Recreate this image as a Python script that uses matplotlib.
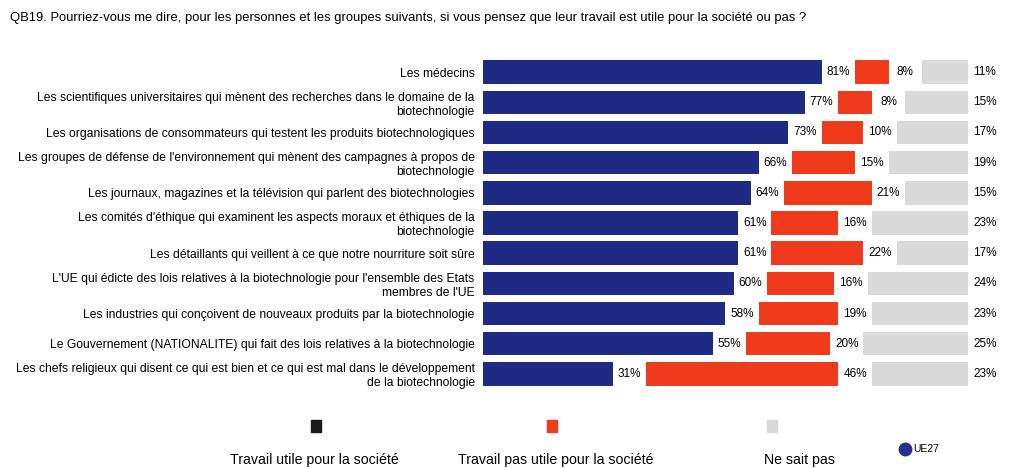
import matplotlib.pyplot as plt
from matplotlib.patches import Rectangle

plt.rcParams['font.family'] = ['Liberation Sans Narrow', 'Liberation Sans', 'DejaVu Sans']

categories = [
    "Les médecins",
    "Les scientifiques universitaires qui mènent des recherches dans le domaine de la\nbiotechnologie",
    "Les organisations de consommateurs qui testent les produits biotechnologiques",
    "Les groupes de défense de l'environnement qui mènent des campagnes à propos de\nbiotechnologie",
    "Les journaux, magazines et la télévision qui parlent des biotechnologies",
    "Les comités d'éthique qui examinent les aspects moraux et éthiques de la\nbiotechnologie",
    "Les détaillants qui veillent à ce que notre nourriture soit sûre",
    "L'UE qui édicte des lois relatives à la biotechnologie pour l'ensemble des Etats\nmembres de l'UE",
    "Les industries qui conçoivent de nouveaux produits par la biotechnologie",
    "Le Gouvernement (NATIONALITE) qui fait des lois relatives à la biotechnologie",
    "Les chefs religieux qui disent ce qui est bien et ce qui est mal dans le développement\nde la biotechnologie",
]
utile = [81, 77, 73, 66, 64, 61, 61, 60, 58, 55, 31]
pas_utile = [8, 8, 10, 15, 21, 16, 22, 16, 19, 20, 46]
nsp = [11, 15, 17, 19, 15, 23, 17, 24, 23, 25, 23]

legend_labels = ["Travail utile pour la société", "Travail pas utile pour la société", "Ne sait pas"]

BLUE = "#1e2a84"
RED = "#f03a1c"
GREY = "#dadada"
GAP = 8  # space left between segments for the value labels

fig = plt.figure(figsize=(10.18, 4.68), dpi=100)
ax = fig.add_axes([483 / 1018, 1 - 389 / 468, (968 - 483) / 1018, (389 - 57) / 468])

y = list(range(len(categories)))
red_left = [u + GAP for u in utile]
grey_left = [r + p + GAP for r, p in zip(red_left, pas_utile)]

ax.barh(y, utile, height=0.78, color=BLUE)
ax.barh(y, pas_utile, left=red_left, height=0.78, color=RED)
ax.barh(y, nsp, left=grey_left, height=0.78, color=GREY)

for i in y:
    ax.text(utile[i] + GAP / 2, i, f"{utile[i]}%", ha="center", va="center", fontsize=8.5)
    ax.text(red_left[i] + pas_utile[i] + GAP / 2, i, f"{pas_utile[i]}%", ha="center",
            va="center", fontsize=8.5)
    ax.text(120, i, f"{nsp[i]}%", ha="center", va="center", fontsize=8.5, clip_on=False)

ax.set_xlim(0, 116)
ax.set_ylim(len(categories) - 0.5, -0.5)
ax.set_yticks(y)
ax.set_yticklabels(categories, fontsize=8.7)
ax.tick_params(axis="y", length=0, pad=6)
ax.set_xticks([])
for s in ax.spines.values():
    s.set_visible(False)

fig.text(10 / 1018, 1 - 18 / 468, "QB19. Pourriez-vous me dire, pour les personnes et les groupes suivants, "
         "si vous pensez que leur travail est utile pour la société ou pas ?",
         fontsize=9.4, va="center", ha="left")

# legend
legend_x = [316, 552, 772]
legend_text_x = [314, 556, 799]
for lx, tx, col, lab in zip(legend_x, legend_text_x, ["#1a1a1a", RED, GREY], legend_labels):
    fig.add_artist(Rectangle(((lx - 5) / 1018, 1 - 432 / 468), 10 / 1018, 12 / 468,
                             transform=fig.transFigure, color=col))
    fig.text(tx / 1018, 1 - 460 / 468, lab, fontsize=10.2, ha="center", va="center")

fig.add_artist(plt.Line2D([905 / 1018], [1 - 449 / 468], marker="o", markersize=9,
                          color="#2a2f8f", transform=fig.transFigure))
fig.text(913 / 1018, 1 - 449 / 468, "UE27", fontsize=7.5, ha="left", va="center")

fig.savefig("out.png", dpi=100)
